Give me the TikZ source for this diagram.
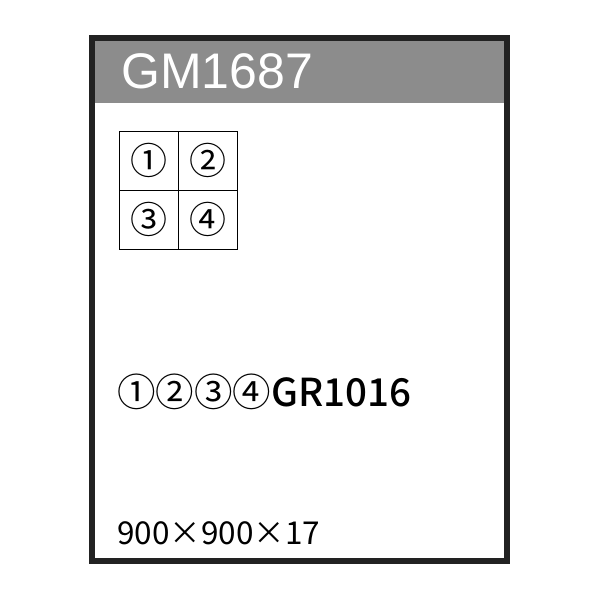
\documentclass[tikz,border=0pt]{standalone}
\usepackage{fontspec}
\setmainfont{Liberation Sans}
\newfontfamily\jpfont{Noto Sans CJK JP}
\newfontfamily\jpmedium{Noto Sans CJK JP Medium}
\usepackage{tikz}
\usetikzlibrary{positioning}

\definecolor{framegray}{RGB}{34,34,34}
\definecolor{bandgray}{RGB}{140,140,140}

\tikzset{
	cellbox/.style={shape=rectangle,draw,line width=0.8pt,minimum size=59.2pt,inner sep=0pt,outer sep=0pt,font=\jpfont\fontsize{37}{40}\selectfont},
	label text/.style={inner sep=0pt,anchor=base west}
}

\begin{document}
\begin{tikzpicture}[x=1pt,y=-1pt]
		\useasboundingbox (0,0) rectangle (600,600);
		\fill[white] (0,0) rectangle (600,600);
		% header band and frame
		\fill[bandgray] (92,38) rectangle (507,103);
		\draw[line width=5.5pt,framegray] (92,38) rectangle (507,561);
		\node(title) [label text,text=white,font=\fontsize{50}{54}\selectfont] at (121,88) {GM1687};

		% the four parts
		\node(cell1) [cellbox] at (148.5,160.5) {①};
		\node(cell2) [cellbox,right=0 of cell1] {②};
		\node(cell3) [cellbox,below=0 of cell1] {③};
		\node(cell4) [cellbox,right=0 of cell3] {④};

		\node(code) [label text,font=\jpfont\fontsize{38.5}{42}\selectfont] at (117,406) {①②③④{\jpmedium GR1016}};
		\node(size) [label text,font=\jpfont\fontsize{31.5}{34}\selectfont] at (117,544) {900×900×17};
	\end{tikzpicture}
\end{document}
